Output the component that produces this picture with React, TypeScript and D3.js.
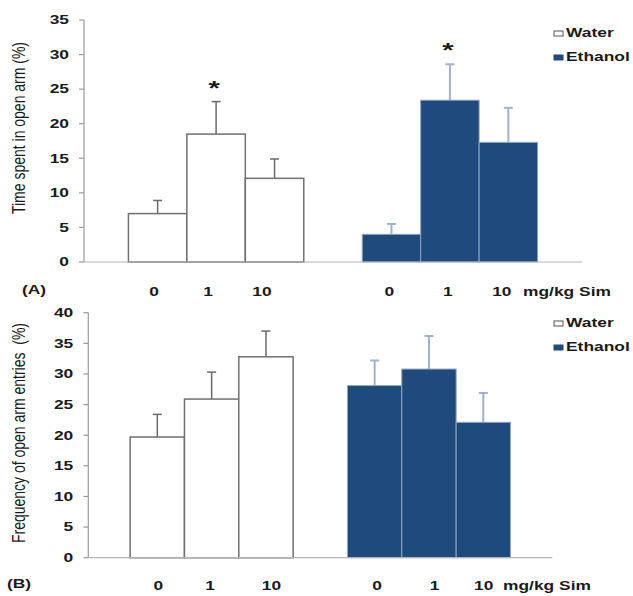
import React from "react";
import * as d3 from "d3";

const doses = ["0", "1", "10"];
const groups = ["Water", "Ethanol"];
const yTicksA = [0, 5, 10, 15, 20, 25, 30, 35];
const yTicksB = [0, 5, 10, 15, 20, 25, 30, 35, 40];

const timeWater = [7.0, 18.5, 12.1];
const timeWaterErr = [8.9, 23.2, 14.9];
const timeEthanol = [4.0, 23.4, 17.3];
const timeEthanolErr = [5.5, 28.6, 22.3];
const timeSig = [false, true, false, false, true, false];

const freqWater = [19.7, 25.9, 32.8];
const freqWaterErr = [23.4, 30.3, 37.0];
const freqEthanol = [28.1, 30.8, 22.1];
const freqEthanolErr = [32.2, 36.2, 26.9];

const slots = ["W0", "W1", "W10", "gap", "E0", "E1", "E10"];
const barSlots = ["W0", "W1", "W10", "E0", "E1", "E10"];

const FONT = "'Liberation Sans', Arial, sans-serif";
const TXT = "#1a1a1a";
const NAVY = "#1f4a7c";
const SX = 1.45;

function SText({ x, y, anchor = "start", size = 12, children, dy = 0 }: any) {
  return (
    <text
      transform={`translate(${x},${y}) scale(${SX},1)`}
      textAnchor={anchor}
      dy={dy}
      fontFamily={FONT}
      fontWeight="bold"
      fontSize={size}
      fill={TXT}
      style={{ whiteSpace: "pre" }}
    >
      {children}
    </text>
  );
}

function Panel({ cfg }: any) {
  const x = d3.scaleBand<string>().domain(slots).range([cfg.x0, cfg.x1]).paddingInner(0).paddingOuter(cfg.po);
  const y = d3.scaleLinear().domain([0, cfg.max]).range([cfg.y0, cfg.y1]);
  const vals = [...cfg.water, ...cfg.ethanol];
  const errs = [...cfg.waterErr, ...cfg.ethanolErr];
  const bw = x.bandwidth();
  return (
    <g>
      <line x1={cfg.x0} x2={cfg.x0} y1={y(cfg.max)} y2={y(0)} stroke="#9a9a9a" strokeWidth={1.2} />
      {cfg.ticks.map((t: number) => (
        <g key={t}>
          <line x1={cfg.x0 - 5} x2={cfg.x0} y1={y(t)} y2={y(t)} stroke="#9a9a9a" strokeWidth={1.2} />
          <SText x={cfg.x0 - 15} y={y(t)} anchor="end" dy="0.36em">{t}</SText>
        </g>
      ))}
      {barSlots.map((s, i) => {
        const isW = i < 3;
        const bx = x(s)!;
        const cx = bx + bw / 2;
        return (
          <g key={s}>
            <line x1={cx} x2={cx} y1={y(vals[i])} y2={y(errs[i])} stroke={isW ? "#6a6a6a" : "#9fb2cb"} strokeWidth={isW ? 1.5 : 2} />
            <line x1={cx - 4.5} x2={cx + 4.5} y1={y(errs[i])} y2={y(errs[i])} stroke={isW ? "#6a6a6a" : "#9fb2cb"} strokeWidth={isW ? 1.5 : 2} />
            <rect
              x={bx}
              y={y(vals[i])}
              width={bw}
              height={y(0) - y(vals[i])}
              fill={isW ? "#ffffff" : NAVY}
              stroke={isW ? "#707070" : "#8ea4c2"}
              strokeWidth={isW ? 1.5 : 1}
            />
            {cfg.sig && cfg.sig[i] && (
              <SText x={cx - 2} y={y(errs[i]) - 7} anchor="middle" size={20}>*</SText>
            )}
          </g>
        );
      })}
      <line x1={cfg.x0} x2={cfg.x1} y1={y(0)} y2={y(0)} stroke="#b5b5b5" strokeWidth={1.2} />
      {barSlots.map((s, i) => (
        <SText key={s} x={x(s)! + bw / 2 + cfg.labelNudge[i]} y={cfg.labelY} anchor="middle">
          {doses[i % 3]}
        </SText>
      ))}
      <SText x={cfg.unitX} y={cfg.labelY}>mg/kg Sim</SText>
      <SText x={cfg.tagX} y={cfg.labelY - 2}>{cfg.tag}</SText>
      <text
        transform={`translate(${cfg.titleX},${cfg.titleY}) rotate(-90) scale(1,1.3)`}
        textAnchor="middle"
        fontFamily={FONT}
        fontSize={14}
        fill={TXT}
        style={{ whiteSpace: "pre" }}
      >
        {cfg.title}
      </text>
      {groups.map((g, i) => (
        <g key={g}>
          <rect
            x={554}
            y={cfg.legY + i * 24 - 6}
            width={9}
            height={5}
            fill={i === 0 ? "#ffffff" : NAVY}
            stroke={i === 0 ? "#555" : NAVY}
            strokeWidth={1}
          />
          <SText x={566} y={cfg.legY + i * 24}>{g}</SText>
        </g>
      ))}
    </g>
  );
}

export default function App() {
  const A = {
    x0: 84, x1: 582, po: 0.76, y0: 262, y1: 20, max: 35, ticks: yTicksA,
    water: timeWater, waterErr: timeWaterErr, ethanol: timeEthanol, ethanolErr: timeEthanolErr,
    sig: timeSig, labelY: 296, labelNudge: [-3.5, -8, -12.5, -2, -2, -6.5],
    unitX: 523, tagX: 22, tag: "(A)", title: "Time spent in open arm (%)", titleX: 25, titleY: 128, legY: 37,
  };
  const B = {
    x0: 88.3, x1: 552.3, po: 0.77, y0: 557.7, y1: 312.7, max: 40, ticks: yTicksB,
    water: freqWater, waterErr: freqWaterErr, ethanol: freqEthanol, ethanolErr: freqEthanolErr,
    sig: null, labelY: 590, labelNudge: [1, -1.5, 5.5, 2.5, 5.5, 0.5],
    unitX: 503, tagX: 7, tag: "(B)", title: "Frequency of open arm entries  (%)", titleX: 25, titleY: 433, legY: 327,
  };
  return (
    <svg width={633} height={596} style={{ position: "absolute", left: 0, top: 0, background: "#fff" }}>
      <Panel cfg={A} />
      <Panel cfg={B} />
    </svg>
  );
}
